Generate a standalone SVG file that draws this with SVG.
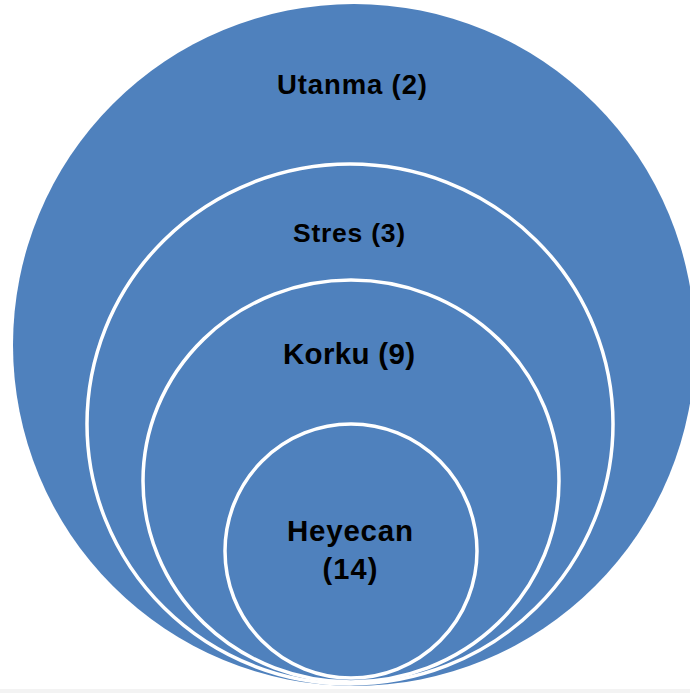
<svg xmlns="http://www.w3.org/2000/svg" width="690" height="693" viewBox="0 0 690 693">
  <style>
    .disc { fill: #4f81bd; }
    .ring { fill: #4f81bd; stroke: #ffffff; stroke-width: 3.5; }
    .label { font-family: "Liberation Sans", Arial, sans-serif; font-weight: bold; fill: #000000; text-anchor: middle; }
  </style>
  <rect x="0" y="0" width="690" height="693" fill="#ffffff"/>
  <rect x="0" y="689" width="690" height="4" fill="#f3f3f3"/>

  <!-- outermost level -->
  <g id="utanma">
    <ellipse class="disc" cx="354" cy="345" rx="341" ry="341"/>
    <text class="label" x="352" y="94" font-size="27.5" textLength="150" lengthAdjust="spacing">Utanma (2)</text>
  </g>

  <!-- second level -->
  <g id="stres">
    <ellipse class="ring" cx="350" cy="424" rx="263" ry="260"/>
    <text class="label" x="349" y="242" font-size="26.5" textLength="112" lengthAdjust="spacing">Stres (3)</text>
  </g>

  <!-- third level -->
  <g id="korku">
    <ellipse class="ring" cx="351" cy="481" rx="208" ry="201"/>
    <text class="label" x="349" y="364" font-size="29.5" textLength="132" lengthAdjust="spacing">Korku (9)</text>
  </g>

  <!-- innermost level -->
  <g id="heyecan">
    <ellipse class="ring" cx="351" cy="551" rx="126" ry="127"/>
    <text class="label" x="350" y="541" font-size="29.5" textLength="126" lengthAdjust="spacing">Heyecan</text>
    <text class="label" x="350" y="579" font-size="29" textLength="55" lengthAdjust="spacing">(14)</text>
  </g>
</svg>
